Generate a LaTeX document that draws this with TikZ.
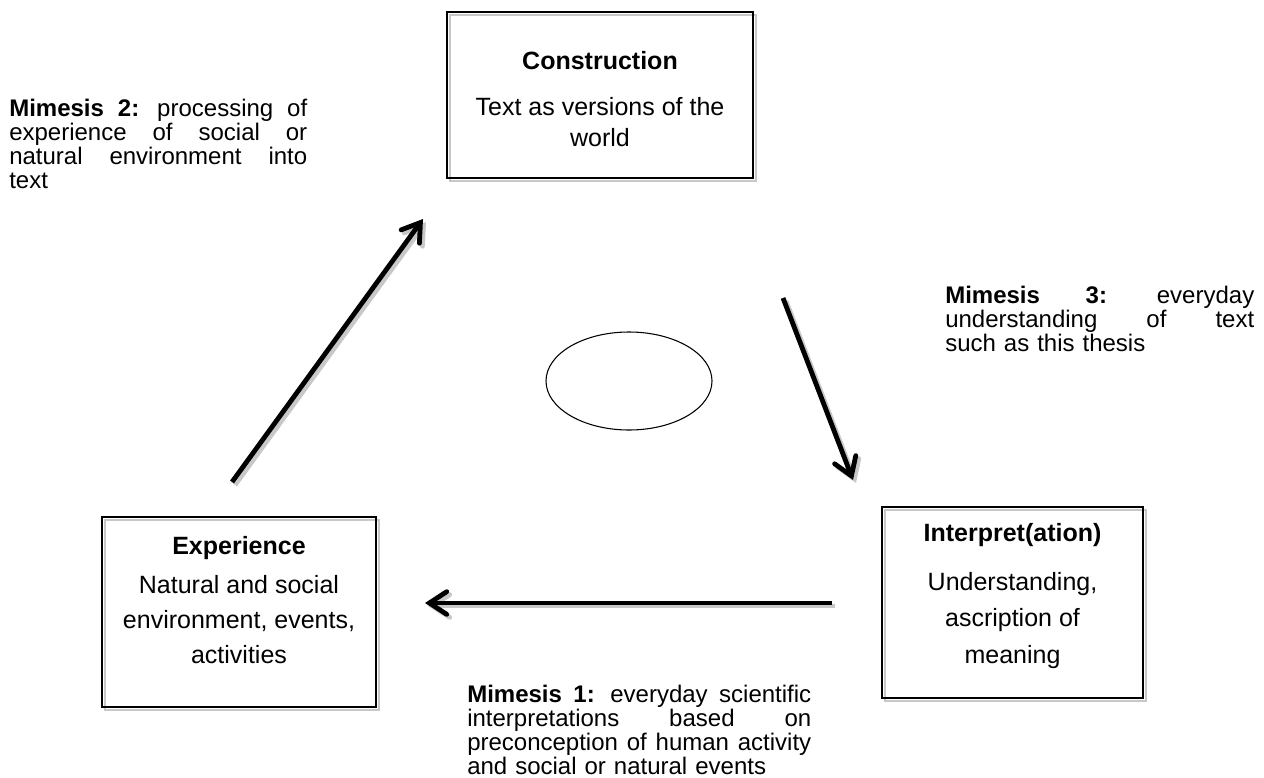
\documentclass[tikz,border=0pt]{standalone}
\usepackage{fontspec}
\setmainfont{Liberation Sans}
\usetikzlibrary{arrows.meta,shapes.geometric,backgrounds}
\definecolor{shadowgray}{RGB}{200,200,200}

% one justified line of width #1 (gaps written as \hfill), and the last (ragged) line
\newcommand\jline[2]{\par\noindent\hbox to #1{#2}\par}
\newcommand\lastline[2]{\par\noindent\hbox to #1{#2\hfil}\par}
\newcommand\mimfont{\fontsize{18pt}{18pt}\selectfont\lineskiplimit=-100pt}
\newcommand\boxfont[1]{\fontsize{18.75pt}{#1}\selectfont}

\tikzset{
  stagebox/.style={draw, line width=1.5pt, rectangle, inner sep=0pt, outer sep=0pt},
  stagetext/.style={align=center, inner sep=0pt, anchor=north},
  mimesis/.style={inner sep=0pt, anchor=north west, font=\mimfont},
  bigarrow/.style={line width=3.6pt, -{Straight Barb[length=13pt,width=17pt,line cap=round]}},
  shadowline/.style={draw=shadowgray, line width=1.5pt},
  shadowarrow/.style={draw=shadowgray, line width=3.6pt, -{Straight Barb[length=13pt,width=17pt,line cap=round]}},
}

\begin{document}
\begin{tikzpicture}[x=0.75pt,y=-0.75pt]
  \useasboundingbox (0,0) rectangle (1264,778);

  % the three stages
  \node[stagebox, minimum width=229.5pt, minimum height=124.5pt] (constr) at (600,95) {};
  \node[stagebox, minimum width=205.5pt, minimum height=142.5pt] (exper) at (239,612) {};
  \node[stagebox, minimum width=195.75pt, minimum height=143.25pt] (interp) at (1012.5,602.5) {};

  \node[stagetext, font=\boxfont{23.25pt}] (constrtxt) at (600,51)
    {\textbf{Construction}\\[11.25pt]Text as versions of the\\world};
  \node[stagetext, font=\boxfont{26.25pt}] (expertxt) at (239,536)
    {\textbf{Experience}\\[3pt]Natural and social\\environment, events,\\activities};
  \node[stagetext, font=\boxfont{27.4pt}] (interptxt) at (1012.5,523)
    {\textbf{Interpret(ation)}\\[9.4pt]Understanding,\\ascription of\\meaning};

  % box shadows
  \begin{scope}[on background layer]
    \draw[shadowline] ([shift={(3,3)}]constr.north west) rectangle ([shift={(3,3)}]constr.south east);
    \draw[shadowline] ([shift={(3,3)}]exper.north west) rectangle ([shift={(3,3)}]exper.south east);
    \draw[shadowline] ([shift={(3,3)}]interp.north west) rectangle ([shift={(3,3)}]interp.south east);
  \end{scope}

  % the centre
  \node[draw, ellipse, line width=0.8pt, minimum width=124.5pt, minimum height=73.5pt] (centre) at (629,381) {};

  % arrow end points
  \coordinate (m2from) at (232,482);
  \coordinate (m2to) at (423,219);
  \coordinate (m3from) at (783,298);
  \coordinate (m3to) at (853,480);
  \coordinate (m1from) at (832,603);
  \coordinate (m1to) at (425,603);

  \draw[shadowarrow] ([shift={(3,3)}]m2from) -- ([shift={(3,3)}]m2to);
  \draw[shadowarrow] ([shift={(3,3)}]m3from) -- ([shift={(3,3)}]m3to);
  \draw[shadowarrow] ([shift={(3,3)}]m1from) -- ([shift={(3,3)}]m1to);
  \draw[bigarrow] (m2from) -- (m2to);
  \draw[bigarrow] (m3from) -- (m3to);
  \draw[bigarrow] (m1from) -- (m1to);

  % the three mimesis labels
  \node[mimesis, text width=223.5pt] (mim2) at (9,92) {%
    \jline{223.5pt}{\textbf{Mimesis \hfill 2:} \hfill processing \hfill of}%
    \jline{223.5pt}{experience \hfill of \hfill social \hfill or}%
    \jline{223.5pt}{natural \hfill environment \hfill into}%
    \lastline{223.5pt}{text}};
  \node[mimesis, text width=231.75pt] (mim3) at (945,279) {%
    \jline{231.75pt}{\textbf{Mimesis \hfill 3:} \hfill everyday}%
    \jline{231.75pt}{understanding \hfill of \hfill text}%
    \lastline{231.75pt}{such as this thesis}};
  \node[mimesis, text width=258pt] (mim1) at (467,678) {%
    \jline{258pt}{\textbf{Mimesis \hfill 1:} \hfill everyday \hfill scientific}%
    \jline{258pt}{interpretations \hfill based \hfill on}%
    \jline{258pt}{preconception \hfill of \hfill human \hfill activity}%
    \lastline{258pt}{and social or natural events}};
\end{tikzpicture}
\end{document}
